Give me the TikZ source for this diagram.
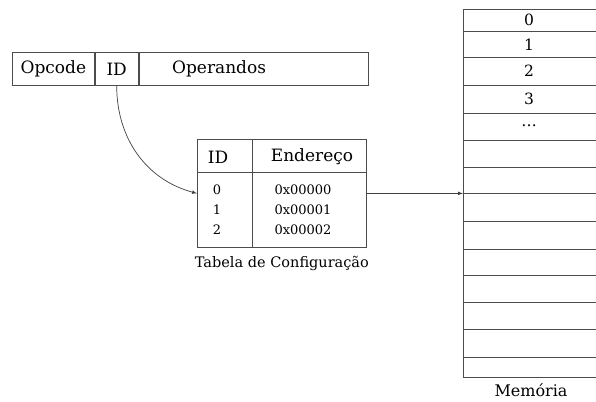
\documentclass[tikz,border=0pt]{standalone}
\usepackage{fontspec}
\setmainfont{DejaVu Serif}
\usepackage{tikz}
\usetikzlibrary{positioning, calc, arrows}

\tikzset{
  cell/.style={draw=black!70, line width=0.8pt, inner sep=0pt},
  bigtxt/.style={font=\rmfamily\fontsize{17}{20}\selectfont},
  smalltxt/.style={font=\rmfamily\fontsize{13}{16}\selectfont},
  memtxt/.style={font=\rmfamily\fontsize{15.5}{18}\selectfont},
  link/.style={draw=black!75, line width=0.7pt, -latex}
}

\begin{document}
\begin{tikzpicture}[x=1pt, y=1pt]
\useasboundingbox (0,0) rectangle (596,-401);

%// instruction word
\node [cell, bigtxt, minimum width=82pt, minimum height=33pt, anchor=north west] (opcode) at (12,-52) {Opcode};
\node [cell, bigtxt, minimum width=43pt, minimum height=33pt, anchor=north west] (idfield) at (opcode.north east) {ID};
\node [cell, minimum width=229pt, minimum height=33pt, anchor=north west,
       label={[bigtxt, anchor=west, xshift=30pt]west:Operandos}] (operands) at (idfield.north east) {};

%// configuration table
\node [cell, minimum width=169pt, minimum height=108pt, anchor=north west] (conftab) at (197,-139) {};
\draw [cell] ($(conftab.north west)+(0,-33)$) -- ($(conftab.north east)+(0,-33)$);
\draw [cell] ($(conftab.north west)+(55,0)$) -- ($(conftab.south west)+(55,0)$);

\node [bigtxt] (tabid) at (218,-157) {ID};
\node [bigtxt] (tabaddr) at (312,-157) {Endereço};

\foreach \y/\val in {0/0,1/1,2/2}
{
  \node [smalltxt] (rowid\val) at (217, -190-20*\y) {\val};
  \node [smalltxt] (rowaddr\val) at (303, -190-20*\y) {0x0000\val};
}

\node [font=\rmfamily\fontsize{14.5}{17}\selectfont, below=5pt of conftab] (tabcap) {Tabela de Configuração};

%// memory
\node [cell, minimum width=140pt, minimum height=368pt, anchor=north west] (memory) at (463,-9) {};
\foreach \y in {31,57,85,113,140,167,193,221,249,275,302,329,357}
\draw [cell] (463,-\y) -- (600,-\y);

\foreach \y/\val in {20/0,45/1,71/2,99/3,126/\ldots}
\node [memtxt] at (529,-\y) {\val};

\node [font=\rmfamily\fontsize{16}{19}\selectfont, below=2pt of memory.south west, anchor=north, xshift=68pt] (memcap) {Memória};

%// connectors
\draw [link] (idfield.south) to[out=-90, in=165] (conftab.west);
\draw [link] (conftab.east) -- (memory.west);

\end{tikzpicture}
\end{document}
